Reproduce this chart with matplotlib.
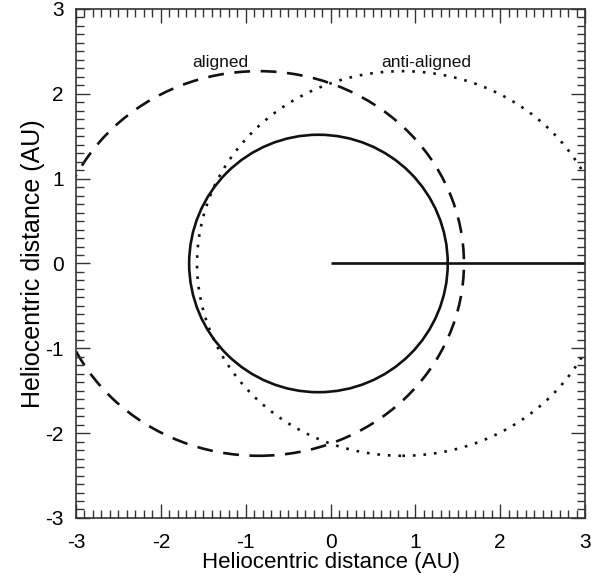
import numpy as np
import matplotlib
matplotlib.use("Agg")
import matplotlib.pyplot as plt
from matplotlib.patches import Ellipse
from matplotlib.ticker import MultipleLocator

plt.rcParams.update({
    "font.family": ["Liberation Sans", "DejaVu Sans"],
    "font.size": 15,
    "axes.unicode_minus": False,
})

# orbits: semi-major axis (AU), eccentricity, perihelion direction (+1 = +x, -1 = -x)
orbit_names = ["mars", "aligned", "anti-aligned"]
orbit_a = [1.524, 2.42, 2.42]
orbit_e = [0.0934, 0.35, 0.35]
orbit_dir = [1, 1, -1]
orbit_style = ["-", (0, (6, 4)), (0, (1.0, 3.0))]

# radial line from Sun along +x
ray_x = [0.0, 3.0]
ray_y = [0.0, 0.0]

labels = ["aligned", "anti-aligned"]
label_x = [-1.3, 1.13]
label_y = [2.37, 2.37]

INK = "#111111"

fig = plt.figure(figsize=(5.91, 5.82), dpi=100)
ax = fig.add_axes([0.1286, 0.11, 0.8613, 0.8746])
ax.set_xlim(-3, 3)
ax.set_ylim(-3, 3)

for a, e, d, ls in zip(orbit_a, orbit_e, orbit_dir, orbit_style):
    b = a * np.sqrt(1 - e ** 2)
    cx = -d * a * e
    ell = Ellipse((cx, 0), 2 * a, 2 * b, fill=False, edgecolor=INK,
                  linewidth=1.9, linestyle=ls)
    ax.add_patch(ell)

ax.plot(ray_x, ray_y, color=INK, lw=1.9, solid_capstyle="butt")

for t, x, y in zip(labels, label_x, label_y):
    ax.text(x, y, t, ha="center", va="center", fontsize=12.5, color=INK)

ax.xaxis.set_major_locator(MultipleLocator(1))
ax.yaxis.set_major_locator(MultipleLocator(1))
ax.xaxis.set_minor_locator(MultipleLocator(0.1))
ax.yaxis.set_minor_locator(MultipleLocator(0.1))
ax.tick_params(which="both", direction="in", top=True, right=True,
               color="#333333", width=1.0)
ax.tick_params(which="major", length=10)
ax.tick_params(which="minor", length=5.5)
ax.tick_params(axis="x", which="major", pad=11, labelsize=15)
ax.tick_params(axis="y", which="major", pad=9, labelsize=15)
ax.tick_params(labelright=False, labeltop=False)
for s in ax.spines.values():
    s.set_linewidth(1.2)
    s.set_color("#333333")

ax.set_xlabel("Heliocentric distance (AU)", fontsize=16, labelpad=0)
ax.set_ylabel("Heliocentric distance (AU)", fontsize=18, labelpad=0)

fig.savefig("out.png", dpi=100)
